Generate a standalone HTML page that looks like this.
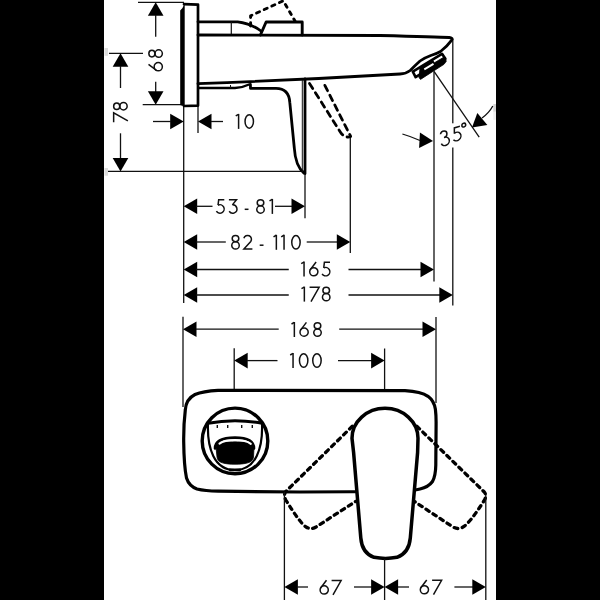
<!DOCTYPE html>
<html><head><meta charset="utf-8"><style>
html,body{margin:0;padding:0;background:#000;}
body{width:600px;height:600px;overflow:hidden;position:relative;}
#w{position:absolute;left:104px;top:0;width:392px;height:600px;background:#fff;}
svg{position:absolute;left:0;top:0;will-change:transform;}
text{font-family:"Liberation Sans",sans-serif;fill:#111;}
</style></head><body><div id="w"></div>
<svg width="600" height="600" viewBox="0 0 600 600">
<rect x="104.5" y="48" width="3.5" height="7.8" fill="#ddd"/>
<rect x="104.5" y="168" width="3.5" height="7.7" fill="#ddd"/>
<rect x="493.3" y="104" width="2.7" height="7.8" fill="#d4d4d4"/>
<rect x="493.3" y="111.8" width="2.7" height="8" fill="#eee"/>
<line x1="138" y1="2.3" x2="184" y2="2.3" stroke="#111" stroke-width="1.3"/>
<polygon points="155.70,2.30 163.50,15.80 147.90,15.80" fill="#000"/>
<line x1="155.7" y1="15" x2="155.7" y2="36.7" stroke="#111" stroke-width="1.3"/>
<line x1="155.7" y1="81.7" x2="155.7" y2="92" stroke="#111" stroke-width="1.3"/>
<polygon points="155.70,104.70 147.90,91.20 163.50,91.20" fill="#000"/>
<line x1="142.7" y1="104.7" x2="184" y2="104.7" stroke="#111" stroke-width="1.3"/>
<g transform="translate(163.1,71.5) rotate(-90)" fill="none" stroke="#111" stroke-width="1.5"><path transform="translate(0,0)" d="M0.70,-4.85 A4.1,4.1 0 1 0 8.90,-4.85 A4.1,4.1 0 1 0 0.70,-4.85 Z"/><path transform="translate(0,0)" d="M7.1,-14.6 L1.08,-6.58"/><path transform="translate(13.4,0)" d="M1.20,-11.20 A3.3,3.05 0 1 0 7.80,-11.20 A3.3,3.05 0 1 0 1.20,-11.20 Z"/><path transform="translate(13.4,0)" d="M0.75,-4.40 A3.75,3.65 0 1 0 8.25,-4.40 A3.75,3.65 0 1 0 0.75,-4.40 Z"/></g>
<line x1="109" y1="53.3" x2="143" y2="53.3" stroke="#111" stroke-width="1.3"/>
<polygon points="120.50,53.30 128.30,66.80 112.70,66.80" fill="#000"/>
<line x1="120.5" y1="66" x2="120.5" y2="88" stroke="#111" stroke-width="1.3"/>
<line x1="120.5" y1="133.3" x2="120.5" y2="159" stroke="#111" stroke-width="1.3"/>
<polygon points="120.50,171.40 112.70,157.90 128.30,157.90" fill="#000"/>
<line x1="108" y1="171.4" x2="302" y2="171.4" stroke="#111" stroke-width="1.3"/>
<g transform="translate(127.9,122.9) rotate(-90)" fill="none" stroke="#111" stroke-width="1.5"><path transform="translate(0,0)" d="M0.6,-14.25 L10.1,-14.25 L2.0,0"/><path transform="translate(12.2,0)" d="M1.20,-11.20 A3.3,3.05 0 1 0 7.80,-11.20 A3.3,3.05 0 1 0 1.20,-11.20 Z"/><path transform="translate(12.2,0)" d="M0.75,-4.40 A3.75,3.65 0 1 0 8.25,-4.40 A3.75,3.65 0 1 0 0.75,-4.40 Z"/></g>
<line x1="183.7" y1="106" x2="183.7" y2="303" stroke="#111" stroke-width="1.3"/>
<line x1="198" y1="106" x2="198" y2="133" stroke="#111" stroke-width="1.3"/>
<polygon points="183.70,121.50 170.20,129.30 170.20,113.70" fill="#000"/>
<line x1="153" y1="121.5" x2="171" y2="121.5" stroke="#111" stroke-width="1.3"/>
<polygon points="198.00,121.50 211.50,113.70 211.50,129.30" fill="#000"/>
<line x1="211" y1="121.5" x2="223" y2="121.5" stroke="#111" stroke-width="1.3"/>
<g transform="translate(0,128.9)" fill="none" stroke="#111" stroke-width="1.5"><path transform="translate(235.25,0)" d="M0.5,-13.0 L3.3,-14.55"/><path transform="translate(235.25,0)" d="M3.35,-15 L3.35,0"/><path transform="translate(244.3,0)" d="M0.75,-7.50 A4.2,6.75 0 1 0 9.15,-7.50 A4.2,6.75 0 1 0 0.75,-7.50 Z"/></g>
<polygon points="183.70,206.30 197.20,198.50 197.20,214.10" fill="#000"/>
<line x1="196" y1="206.3" x2="212.5" y2="206.3" stroke="#111" stroke-width="1.3"/>
<g transform="translate(0,213.9)" fill="none" stroke="#111" stroke-width="1.5"><path transform="translate(215,0)" d="M9.3,-14.25 L3.7,-14.25 L3.04,-8.69"/><path transform="translate(215,0)" d="M3.04,-8.69 A4.2,4.2 0 1 1 1.39,-2.72"/><path transform="translate(228,0)" d="M0.9,-14.25 L8.5,-14.25 L4.4,-9.05"/><path transform="translate(228,0)" d="M4.45,-9.10 A4.2,4.2 0 1 1 1.19,-2.67"/><path transform="translate(244.7,0)" d="M0,-4.6 L3.8,-4.6"/><path transform="translate(256,0)" d="M1.20,-11.20 A3.3,3.05 0 1 0 7.80,-11.20 A3.3,3.05 0 1 0 1.20,-11.20 Z"/><path transform="translate(256,0)" d="M0.75,-4.40 A3.75,3.65 0 1 0 8.25,-4.40 A3.75,3.65 0 1 0 0.75,-4.40 Z"/><path transform="translate(269,0)" d="M0.5,-13.0 L3.3,-14.55"/><path transform="translate(269,0)" d="M3.35,-15 L3.35,0"/></g>
<line x1="275" y1="206.3" x2="292" y2="206.3" stroke="#111" stroke-width="1.3"/>
<polygon points="305.00,206.30 291.50,214.10 291.50,198.50" fill="#000"/>
<line x1="305" y1="173" x2="305" y2="218.3" stroke="#111" stroke-width="1.3"/>
<polygon points="183.70,242.00 197.20,234.20 197.20,249.80" fill="#000"/>
<line x1="196" y1="242" x2="225.8" y2="242" stroke="#111" stroke-width="1.3"/>
<g transform="translate(0,249.8)" fill="none" stroke="#111" stroke-width="1.5"><path transform="translate(231,0)" d="M1.20,-11.20 A3.3,3.05 0 1 0 7.80,-11.20 A3.3,3.05 0 1 0 1.20,-11.20 Z"/><path transform="translate(231,0)" d="M0.75,-4.40 A3.75,3.65 0 1 0 8.25,-4.40 A3.75,3.65 0 1 0 0.75,-4.40 Z"/><path transform="translate(243,0)" d="M0.88,-11.55 A3.85,3.85 0 1 1 7.75,-8.34 L0.9,-0.75 L9.4,-0.75"/><path transform="translate(259.7,0)" d="M0,-4.6 L3.8,-4.6"/><path transform="translate(273,0)" d="M0.5,-13.0 L3.3,-14.55"/><path transform="translate(273,0)" d="M3.35,-15 L3.35,0"/><path transform="translate(280.7,0)" d="M0.5,-13.0 L3.3,-14.55"/><path transform="translate(280.7,0)" d="M3.35,-15 L3.35,0"/><path transform="translate(291,0)" d="M0.75,-7.50 A4.2,6.75 0 1 0 9.15,-7.50 A4.2,6.75 0 1 0 0.75,-7.50 Z"/></g>
<line x1="306.7" y1="242" x2="337" y2="242" stroke="#111" stroke-width="1.3"/>
<polygon points="350.30,242.00 336.80,249.80 336.80,234.20" fill="#000"/>
<line x1="350.3" y1="136" x2="350.3" y2="253" stroke="#111" stroke-width="1.3"/>
<polygon points="183.70,269.50 197.20,261.70 197.20,277.30" fill="#000"/>
<line x1="196" y1="269.5" x2="288.75" y2="269.5" stroke="#111" stroke-width="1.3"/>
<g transform="translate(0,276.6)" fill="none" stroke="#111" stroke-width="1.5"><path transform="translate(300.7,0)" d="M0.5,-13.0 L3.3,-14.55"/><path transform="translate(300.7,0)" d="M3.35,-15 L3.35,0"/><path transform="translate(309,0)" d="M0.70,-4.85 A4.1,4.1 0 1 0 8.90,-4.85 A4.1,4.1 0 1 0 0.70,-4.85 Z"/><path transform="translate(309,0)" d="M7.1,-14.6 L1.08,-6.58"/><path transform="translate(320.7,0)" d="M9.3,-14.25 L3.7,-14.25 L3.04,-8.69"/><path transform="translate(320.7,0)" d="M3.04,-8.69 A4.2,4.2 0 1 1 1.39,-2.72"/></g>
<line x1="348.5" y1="269.5" x2="421" y2="269.5" stroke="#111" stroke-width="1.3"/>
<polygon points="434.00,269.50 420.50,277.30 420.50,261.70" fill="#000"/>
<line x1="434" y1="71.3" x2="434" y2="281.5" stroke="#111" stroke-width="1.3"/>
<polygon points="183.70,295.00 197.20,287.20 197.20,302.80" fill="#000"/>
<line x1="196" y1="295" x2="288.75" y2="295" stroke="#111" stroke-width="1.3"/>
<g transform="translate(0,301.6)" fill="none" stroke="#111" stroke-width="1.5"><path transform="translate(301,0)" d="M0.5,-13.0 L3.3,-14.55"/><path transform="translate(301,0)" d="M3.35,-15 L3.35,0"/><path transform="translate(309,0)" d="M0.6,-14.25 L10.1,-14.25 L2.0,0"/><path transform="translate(321.7,0)" d="M1.20,-11.20 A3.3,3.05 0 1 0 7.80,-11.20 A3.3,3.05 0 1 0 1.20,-11.20 Z"/><path transform="translate(321.7,0)" d="M0.75,-4.40 A3.75,3.65 0 1 0 8.25,-4.40 A3.75,3.65 0 1 0 0.75,-4.40 Z"/></g>
<line x1="348.5" y1="295" x2="440" y2="295" stroke="#111" stroke-width="1.3"/>
<polygon points="452.80,295.00 439.30,302.80 439.30,287.20" fill="#000"/>
<line x1="452.8" y1="39" x2="452.8" y2="305.5" stroke="#111" stroke-width="1.3"/>
<line x1="434" y1="71.3" x2="479.2" y2="137.2" stroke="#111" stroke-width="1.3"/>
<rect x="450" y="123.3" width="6" height="24.2" fill="#fff"/>
<g transform="translate(440.5,146.4) skewY(-10) rotate(-7)" fill="none" stroke="#111" stroke-width="1.5"><path transform="translate(0,0)" d="M1.40,-12.13 A3.3,3.3 0 1 1 4.50,-7.70 A4.15,4.15 0 1 1 1.16,-2.48"/><path transform="translate(12,0)" d="M9.3,-14.25 L3.7,-14.25 L3.04,-8.69"/><path transform="translate(12,0)" d="M3.04,-8.69 A4.2,4.2 0 1 1 1.39,-2.72"/><path transform="translate(22.8,0)" d="M0.50,-14.20 A1.9,1.9 0 1 0 4.30,-14.20 A1.9,1.9 0 1 0 0.50,-14.20 Z"/></g>
<polygon points="433.00,140.90 419.11,147.98 419.93,132.40" fill="#000"/>
<path d="M402.4,134 Q411,136.5 420,140.5" fill="none" stroke="#111" stroke-width="1.3"/>
<polygon points="472.00,127.60 477.33,112.95 487.36,124.90" fill="#000"/>
<path d="M492.8,106 Q489,113 482,118" fill="none" stroke="#111" stroke-width="1.3"/>
<path d="M184,4.2 L198,4.6 L198,105.6 L184,106" fill="#fff" stroke="#000" stroke-linejoin="round" stroke-linecap="round" stroke-width="2.7"/>
<polygon points="180.2,10.5 182.5,8 184.7,3 184.7,106.5 180.2,105" fill="#000"/>
<path d="M198,21.8 L237.7,21.8 Q251,23.5 261,31" fill="none" stroke="#000" stroke-linejoin="round" stroke-linecap="round" stroke-width="2.8"/>
<line x1="231.3" y1="21.7" x2="231.3" y2="35" stroke="#111" stroke-width="1.2"/>
<path d="M260.4,35 L266.1,22 L302.2,22 L302.2,35" fill="none" stroke="#000" stroke-linejoin="round" stroke-linecap="round" stroke-width="2.9"/>
<path d="M250.6,26 L250.6,15.8 L283.3,0.8 L295,21" fill="none" stroke="#000" stroke-linejoin="round" stroke-linecap="round" stroke-width="2.9" stroke-dasharray="3.2 5.2"/>
<path d="M198,35 L380,35.5 Q438,36.9 449.2,37.5 Q453,38.2 451.9,39.8 Q447,46.5 440.5,51.5 Q436,54 430.8,55.5 Q424,58 420,61 Q414,66.5 410.2,70.5 Q406,73.8 400,74 Q300,80 198,83.6" fill="none" stroke="#000" stroke-linejoin="round" stroke-linecap="round" stroke-width="2.8"/>
<polygon points="412.8,71.6 442,53.8 445.4,58.8 415.6,77.2" fill="#fff" stroke="#000" stroke-width="2.6" stroke-linejoin="round"/>
<polygon points="420,67.8 432.6,60 434.4,62.8 444.6,56.7 446.3,61.2 444,64.3 420.5,79.4 419,77.6" fill="#000" stroke="#000" stroke-width="0.8" stroke-linejoin="round"/>
<polygon points="423.8,68.6 433,63 434,64.7 424.8,70.3" fill="#fff"/>
<path d="M199,88 L235,88 Q243,87.5 249,84.5" fill="none" stroke="#000" stroke-linejoin="round" stroke-linecap="round" stroke-width="2.3"/>
<line x1="230.5" y1="85" x2="230.5" y2="88" stroke="#111" stroke-width="1.0"/>
<path d="M250.4,84.3 L250.5,88.4 L276,88.4 C285,88.4 289.2,93 289.8,102.4 L294.3,148 C295,160 298,168 304,173.2 L305,173.5 L305,79" fill="none" stroke="#000" stroke-linejoin="round" stroke-linecap="round" stroke-width="2.8"/>
<line x1="302.3" y1="80" x2="302.3" y2="172" stroke="#111" stroke-width="1.0"/>
<path d="M309.5,83.5 L341.3,133.5 Q346,138.5 350.7,136.5 L323.5,82.7" fill="none" stroke="#000" stroke-linejoin="round" stroke-linecap="round" stroke-width="2.8" stroke-dasharray="6 5"/>
<line x1="183" y1="316.7" x2="183" y2="407" stroke="#111" stroke-width="1.3"/>
<polygon points="183.00,329.20 196.50,321.40 196.50,337.00" fill="#000"/>
<line x1="196" y1="329.2" x2="278.7" y2="329.2" stroke="#111" stroke-width="1.3"/>
<g transform="translate(0,337)" fill="none" stroke="#111" stroke-width="1.5"><path transform="translate(291,0)" d="M0.5,-13.0 L3.3,-14.55"/><path transform="translate(291,0)" d="M3.35,-15 L3.35,0"/><path transform="translate(299.3,0)" d="M0.70,-4.85 A4.1,4.1 0 1 0 8.90,-4.85 A4.1,4.1 0 1 0 0.70,-4.85 Z"/><path transform="translate(299.3,0)" d="M7.1,-14.6 L1.08,-6.58"/><path transform="translate(313,0)" d="M1.20,-11.20 A3.3,3.05 0 1 0 7.80,-11.20 A3.3,3.05 0 1 0 1.20,-11.20 Z"/><path transform="translate(313,0)" d="M0.75,-4.40 A3.75,3.65 0 1 0 8.25,-4.40 A3.75,3.65 0 1 0 0.75,-4.40 Z"/></g>
<line x1="339.2" y1="329.2" x2="423" y2="329.2" stroke="#111" stroke-width="1.3"/>
<polygon points="436.00,329.20 422.50,337.00 422.50,321.40" fill="#000"/>
<line x1="436" y1="317" x2="436" y2="403" stroke="#111" stroke-width="1.3"/>
<line x1="234.2" y1="348.3" x2="234.2" y2="389" stroke="#111" stroke-width="1.3"/>
<polygon points="234.20,360.60 247.70,352.80 247.70,368.40" fill="#000"/>
<line x1="247" y1="360.6" x2="277.5" y2="360.6" stroke="#111" stroke-width="1.3"/>
<g transform="translate(0,368)" fill="none" stroke="#111" stroke-width="1.5"><path transform="translate(289.7,0)" d="M0.5,-13.0 L3.3,-14.55"/><path transform="translate(289.7,0)" d="M3.35,-15 L3.35,0"/><path transform="translate(298.7,0)" d="M0.75,-7.50 A4.2,6.75 0 1 0 9.15,-7.50 A4.2,6.75 0 1 0 0.75,-7.50 Z"/><path transform="translate(312,0)" d="M0.75,-7.50 A4.2,6.75 0 1 0 9.15,-7.50 A4.2,6.75 0 1 0 0.75,-7.50 Z"/></g>
<line x1="338" y1="360.6" x2="372" y2="360.6" stroke="#111" stroke-width="1.3"/>
<polygon points="384.60,360.60 371.10,368.40 371.10,352.80" fill="#000"/>
<line x1="384.6" y1="348.5" x2="384.6" y2="390" stroke="#111" stroke-width="1.3"/>
<path d="M218,390.4 L405,390.7 Q421,391.6 428,396.3 Q434,400.7 435.4,409.3 Q436.2,416 436.1,424 L435.8,465 Q435.6,476 432.5,481.5 Q428.5,487 420,489 Q414,490.5 400,491.5 L300,492 L218,491.2 Q205,491 197,489 Q189,486 186.5,478 Q184,466 183.7,442 Q183.5,425 185.3,410 Q186,399 195,394.5 Q203,391.3 218,390.4 Z" fill="#fff" stroke="#000" stroke-linejoin="round" stroke-linecap="round" stroke-width="3.2"/>
<circle cx="235" cy="440.9" r="32.8" fill="none" stroke="#000" stroke-linejoin="round" stroke-linecap="round" stroke-width="3.4"/>
<path d="M208,423.3 C207,448 214,470 235,470 C256,470 263,448 262,423.3" fill="none" stroke="#000" stroke-linejoin="round" stroke-linecap="round" stroke-width="2.2"/>
<path d="M208,423.3 Q235,418.2 262,423.3" fill="none" stroke="#000" stroke-linejoin="round" stroke-linecap="round" stroke-width="3"/>
<line x1="217.3" y1="425" x2="217.3" y2="428" stroke="#111" stroke-width="1.4"/>
<line x1="227.7" y1="425" x2="227.7" y2="428" stroke="#111" stroke-width="1.4"/>
<line x1="241.7" y1="425" x2="241.7" y2="428" stroke="#111" stroke-width="1.4"/>
<line x1="252.3" y1="425" x2="252.3" y2="428" stroke="#111" stroke-width="1.4"/>
<path d="M215,448.5 C215,440.5 224,437.6 235,437.6 C246,437.6 254,440.5 254,448.5" fill="none" stroke="#000" stroke-linejoin="round" stroke-linecap="round" stroke-width="2.6"/>
<path d="M216,447.5 C216.5,443 219,442 226,441.8 C230,441.6 240,441.6 244,441.8 C251,442 253.5,443 254,447.5 L253.5,457 C253,463 245,464.2 235,464.2 C225,464.2 217.5,463 217,457 Z" fill="#000" stroke="#000" stroke-width="0.8"/>
<path d="M230,469.8 L240,469.8" fill="none" stroke="#000" stroke-linejoin="round" stroke-linecap="round" stroke-width="2.8"/>
<path d="M219.5,443.6 C223,441 228,440.3 235,440.3 C242,440.3 247,441 250.8,443.8" fill="none" stroke="#fff" stroke-width="2.1" stroke-linecap="round"/>
<path d="M352.3,426.3 L285.8,491.5 Q283.3,495 285.8,500 Q300,523 306,527 Q311,530 316,527 L355.5,501.5" fill="none" stroke="#000" stroke-linejoin="round" stroke-linecap="round" stroke-width="3.3" stroke-dasharray="3.8 4.6"/>
<path d="M416.8,426.2 L484.3,492 Q487,495.5 484.5,500 Q470,523 463,527 Q458,530 453,527 L414.4,501.5" fill="none" stroke="#000" stroke-linejoin="round" stroke-linecap="round" stroke-width="3.3" stroke-dasharray="3.8 4.6"/>
<line x1="284.4" y1="492" x2="284.4" y2="600" stroke="#111" stroke-width="1.3"/>
<line x1="485.8" y1="495" x2="485.8" y2="600" stroke="#111" stroke-width="1.3"/>
<path d="M352,438.3 A33,30 0 0 1 418,438.3 L417.6,452.5 L410.3,538 Q409,553 397,557.3 Q391,558.4 385.5,558.4 Q380,558.4 374,557.3 Q362,553 360.8,538 L353.6,452.5 Z" fill="#fff" stroke="#000" stroke-linejoin="round" stroke-linecap="round" stroke-width="3.5"/>
<line x1="384.6" y1="559" x2="384.6" y2="600" stroke="#111" stroke-width="1.3"/>
<polygon points="284.40,587.00 297.90,579.20 297.90,594.80" fill="#000"/>
<line x1="297" y1="587" x2="308" y2="587" stroke="#111" stroke-width="1.3"/>
<g transform="translate(0,594.8)" fill="none" stroke="#111" stroke-width="1.5"><path transform="translate(319.4,0)" d="M0.70,-4.85 A4.1,4.1 0 1 0 8.90,-4.85 A4.1,4.1 0 1 0 0.70,-4.85 Z"/><path transform="translate(319.4,0)" d="M7.1,-14.6 L1.08,-6.58"/><path transform="translate(331,0)" d="M0.6,-14.25 L10.1,-14.25 L2.0,0"/></g>
<line x1="354" y1="587" x2="372" y2="587" stroke="#111" stroke-width="1.3"/>
<polygon points="384.60,587.00 371.10,594.80 371.10,579.20" fill="#000"/>
<polygon points="384.60,587.00 398.10,579.20 398.10,594.80" fill="#000"/>
<line x1="398" y1="587" x2="409" y2="587" stroke="#111" stroke-width="1.3"/>
<g transform="translate(0,594.6)" fill="none" stroke="#111" stroke-width="1.5"><path transform="translate(419.6,0)" d="M0.70,-4.85 A4.1,4.1 0 1 0 8.90,-4.85 A4.1,4.1 0 1 0 0.70,-4.85 Z"/><path transform="translate(419.6,0)" d="M7.1,-14.6 L1.08,-6.58"/><path transform="translate(431.5,0)" d="M0.6,-14.25 L10.1,-14.25 L2.0,0"/></g>
<line x1="454.4" y1="587" x2="473" y2="587" stroke="#111" stroke-width="1.3"/>
<polygon points="485.80,587.00 472.30,594.80 472.30,579.20" fill="#000"/>
</svg>
</body></html>
